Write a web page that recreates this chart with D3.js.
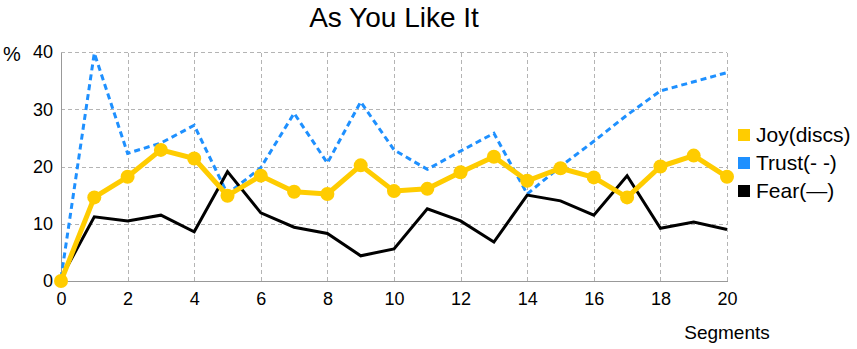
<!DOCTYPE html>
<html lang="en">
<head>
<meta charset="utf-8">
<title>As You Like It</title>
<script src="https://cdn.jsdelivr.net/npm/d3@7"></script>
<style>
    body { margin: 0; background: #fff; }
    text { font-family: "Liberation Sans", Arial, sans-serif; fill: #000; }
    .grid line { stroke: #b4b4b4; stroke-dasharray: 4,3; shape-rendering: crispEdges; }
    .axis path, .axis line { stroke: #999; shape-rendering: crispEdges; }
    .axis text { font-size: 18px; }
    .line { fill: none; }
</style>
</head>
<body>
<div id="chart"></div>
<script>
// segments 0..20
const segments = d3.range(0, 21);
const joy   = [0, 14.6, 18.2, 22.9, 21.4, 14.9, 18.4, 15.6, 15.2, 20.2, 15.7, 16.1, 19.0, 21.7, 17.5, 19.7, 18.1, 14.6, 20.0, 21.9, 18.2];
const trust = [0.5, 39.8, 22.3, 24.1, 27.2, 15.2, 19.8, 29.3, 20.6, 31.3, 22.9, 19.5, 22.7, 25.8, 15.2, 20.0, 24.4, 29.0, 33.2, 34.8, 36.4];
const fear  = [0.5, 11.2, 10.5, 11.5, 8.6, 19.1, 11.9, 9.4, 8.3, 4.4, 5.6, 12.6, 10.5, 6.8, 15.0, 14.0, 11.5, 18.4, 9.2, 10.3, 9.0];
const xTicks = [0, 2, 4, 6, 8, 10, 12, 14, 16, 18, 20];
const yTicks = [0, 10, 20, 30, 40];
const legendLabels = ["Joy(discs)", "Trust(- -)", "Fear(\u2014)"];

const WIDTH = 857, HEIGHT = 349;
const MARGIN = {top: 52, right: 130, bottom: 68, left: 61};

const svg = d3.select("#chart").append("svg")
    .attr("width", WIDTH)
    .attr("height", HEIGHT);

const x = d3.scaleLinear().domain([0, 20]).range([MARGIN.left, WIDTH - MARGIN.right]);
const y = d3.scaleLinear().domain([0, 40]).range([HEIGHT - MARGIN.bottom, MARGIN.top]);

// grid
const grid = svg.append("g").attr("class", "grid");
grid.selectAll(".h").data(yTicks.filter(d => d > 0)).enter().append("line")
    .attr("x1", x(0)).attr("x2", x(20))
    .attr("y1", d => Math.round(y(d)) + 0.5).attr("y2", d => Math.round(y(d)) + 0.5);
grid.selectAll(".v").data(xTicks.filter(d => d > 0)).enter().append("line")
    .attr("y1", y(0)).attr("y2", y(40))
    .attr("x1", d => Math.round(x(d)) + 0.5).attr("x2", d => Math.round(x(d)) + 0.5);

// axes
svg.append("g")
    .attr("class", "axis")
    .attr("transform", "translate(0," + y(0) + ")")
    .call(d3.axisBottom(x).tickValues(xTicks).tickSize(0).tickPadding(11).tickSizeOuter(0));
svg.append("g")
    .attr("class", "axis")
    .attr("transform", "translate(" + x(0) + ",0)")
    .call(d3.axisLeft(y).tickValues(yTicks).tickSize(0).tickPadding(8).tickSizeOuter(0));

// lines
const lineGen = d3.line()
    .x((d, i) => x(segments[i]))
    .y(d => y(d));

svg.append("path").datum(trust)
    .attr("class", "line")
    .attr("stroke", "#1e90ff")
    .attr("stroke-width", 3)
    .attr("stroke-dasharray", "6,4")
    .attr("d", lineGen);

svg.append("path").datum(fear)
    .attr("class", "line")
    .attr("stroke", "#000")
    .attr("stroke-width", 3)
    .attr("d", lineGen);

svg.append("path").datum(joy)
    .attr("class", "line")
    .attr("stroke", "#ffcc00")
    .attr("stroke-width", 5)
    .attr("stroke-linejoin", "round")
    .attr("d", lineGen);

svg.selectAll(".dot").data(joy).enter().append("circle")
    .attr("class", "dot")
    .attr("cx", (d, i) => x(segments[i]))
    .attr("cy", d => y(d))
    .attr("r", 7)
    .attr("fill", "#ffcc00");

// title and axis labels
svg.append("text")
    .attr("x", (x(0) + x(20)) / 2)
    .attr("y", 27)
    .attr("text-anchor", "middle")
    .style("font-size", "28px")
    .text("As You Like It");

svg.append("text")
    .attr("x", 3)
    .attr("y", 61)
    .style("font-size", "20px")
    .text("%");

svg.append("text")
    .attr("x", x(20))
    .attr("y", 339)
    .attr("text-anchor", "middle")
    .style("font-size", "19px")
    .text("Segments");

// legend
const legendColors = ["#ffcc00", "#1e90ff", "#000"];
const legend = svg.selectAll(".legend").data(legendLabels).enter().append("g")
    .attr("class", "legend")
    .attr("transform", (d, i) => "translate(738," + (129 + i * 28) + ")");
legend.append("rect")
    .attr("width", 12).attr("height", 12)
    .attr("fill", (d, i) => legendColors[i]);
legend.append("text")
    .attr("x", 18)
    .attr("y", 12.5)
    .style("font-size", "21px")
    .text(d => d);
</script>
</body>
</html>
